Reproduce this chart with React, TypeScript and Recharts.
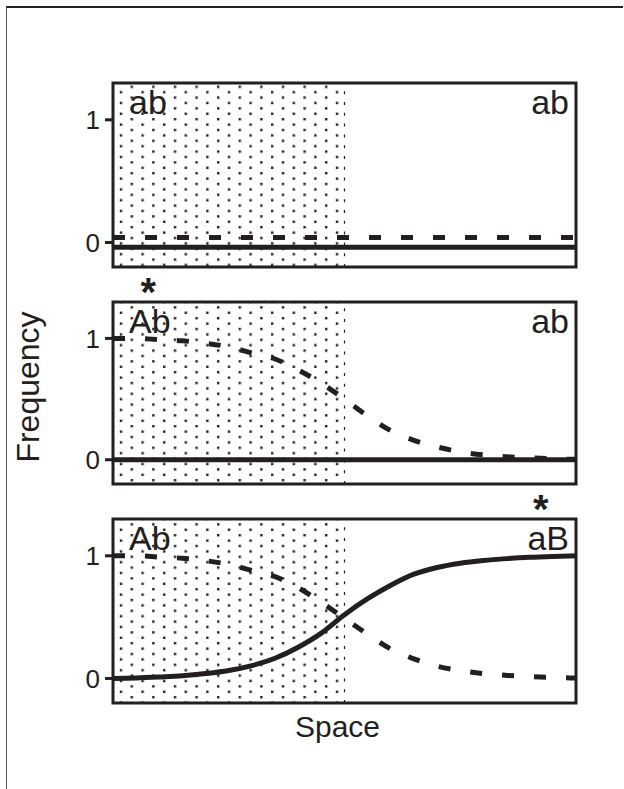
import React from "react";
import {
  LineChart,
  Line,
  XAxis,
  YAxis,
  ReferenceArea,
  ReferenceLine,
  ReferenceDot,
  Label,
} from "recharts";

// position along the transect (0 = left edge, 1 = right edge)
const space = [
  0, 0.05, 0.1, 0.15, 0.2, 0.25, 0.3, 0.35, 0.4, 0.45, 0.5, 0.55, 0.6, 0.65,
  0.7, 0.75, 0.8, 0.85, 0.9, 0.95, 1,
];

// top panel: both alleles absent (drawn slightly apart at zero)
const topDashed = [
  0.04, 0.04, 0.04, 0.04, 0.04, 0.04, 0.04, 0.04, 0.04, 0.04, 0.04, 0.04, 0.04,
  0.04, 0.04, 0.04, 0.04, 0.04, 0.04, 0.04, 0.04,
];
const topSolid = [
  -0.04, -0.04, -0.04, -0.04, -0.04, -0.04, -0.04, -0.04, -0.04, -0.04, -0.04,
  -0.04, -0.04, -0.04, -0.04, -0.04, -0.04, -0.04, -0.04, -0.04, -0.04,
];

// middle panel: A spreads, B absent
const midDashed = [
  1.0, 1.0, 0.99, 0.98, 0.96, 0.93, 0.88, 0.83, 0.74, 0.63, 0.5, 0.36, 0.24,
  0.16, 0.105, 0.065, 0.04, 0.025, 0.015, 0.008, 0.003,
];
const midSolid = [
  0, 0, 0, 0, 0, 0, 0, 0, 0, 0, 0, 0, 0, 0, 0, 0, 0, 0, 0, 0, 0,
];

// bottom panel: A and B form opposing clines
const lowDashed = [
  1.0, 1.0, 0.99, 0.98, 0.96, 0.93, 0.88, 0.83, 0.74, 0.62, 0.49, 0.36, 0.24,
  0.16, 0.1, 0.065, 0.04, 0.025, 0.015, 0.008, 0.003,
];
const lowSolid = [
  0, 0.004, 0.012, 0.022, 0.04, 0.065, 0.105, 0.165, 0.255, 0.37, 0.52, 0.65,
  0.76, 0.85, 0.905, 0.94, 0.962, 0.977, 0.988, 0.995, 1.0,
];

const yTicks = [0, 1];

const INK = "#231f20";
const FONT = "'Liberation Sans', Arial, Helvetica, sans-serif";

type Row = { x: number; dashed: number; solid: number };

function rows(dashed: number[], solid: number[]): Row[] {
  return space.map((x, i) => ({ x, dashed: dashed[i], solid: solid[i] }));
}

interface PanelProps {
  id: string;
  data: Row[];
  top: number;
  height: number;
  marginTop: number;
  marginBottom: number;
  leftLabel: string;
  rightLabel: string;
  star?: number;
  yLabel?: string;
  xLabel?: string;
}

function Panel({
  id,
  data,
  top,
  height,
  marginTop,
  marginBottom,
  leftLabel,
  rightLabel,
  star,
  yLabel,
  xLabel,
}: PanelProps) {
  return (
    <div style={{ position: "absolute", left: 0, top }}>
      <LineChart
        width={624}
        height={height}
        data={data}
        margin={{ top: marginTop, bottom: marginBottom, left: 13, right: 48 }}
      >
        <defs>
          <pattern
            id={id}
            patternUnits="userSpaceOnUse"
            width={21.6}
            height={10.8}
          >
            <rect x={1} y={1} width={2.4} height={2.4} fill={INK} />
            <rect x={11.8} y={6.4} width={2.4} height={2.4} fill={INK} />
          </pattern>
        </defs>
        {xLabel ? (
          <XAxis
            type="number"
            dataKey="x"
            domain={[0, 1]}
            height={45}
            tick={false}
            axisLine={false}
            tickLine={false}
          >
            <Label
              value={xLabel}
              position="insideBottom"
              offset={11}
              dx={-7}
              fontSize={30}
              fill={INK}
              fontFamily={FONT}
            />
          </XAxis>
        ) : (
          <XAxis type="number" dataKey="x" domain={[0, 1]} hide />
        )}
        <YAxis
          type="number"
          domain={[-0.2, 1.3]}
          ticks={yTicks}
          allowDataOverflow
          width={100}
          axisLine={false}
          tickSize={8}
          tickMargin={5}
          tickLine={{ stroke: INK, strokeWidth: 3 }}
          tick={{ fill: INK, fontSize: 26, fontFamily: FONT }}
        >
          {yLabel && (
            <Label
              value={yLabel}
              angle={-90}
              position="insideLeft"
              offset={15}
              dy={-6}
              fontSize={32}
              fill={INK}
              fontFamily={FONT}
              style={{ textAnchor: "middle" }}
            />
          )}
        </YAxis>
        <ReferenceArea
          x1={0}
          x2={0.5}
          y1={-0.2}
          y2={1.3}
          fill={`url(#${id})`}
          fillOpacity={1}
          stroke="none"
        />
        <ReferenceLine
          x={0.5}
          stroke={INK}
          strokeWidth={1.2}
          strokeDasharray="3 7.8"
        />
        <Line
          type="monotone"
          dataKey="dashed"
          stroke={INK}
          strokeWidth={5}
          strokeDasharray="12 20"
          dot={false}
          activeDot={false}
          isAnimationActive={false}
        />
        <Line
          type="monotone"
          dataKey="solid"
          stroke={INK}
          strokeWidth={5}
          dot={false}
          activeDot={false}
          isAnimationActive={false}
        />
        <ReferenceArea
          x1={0}
          x2={1}
          y1={-0.2}
          y2={1.3}
          fill="none"
          stroke={INK}
          strokeWidth={3}
        >
          <Label
            value={leftLabel}
            position="insideTopLeft"
            offset={7}
            dx={9}
            fontSize={34}
            fill={INK}
            fontFamily={FONT}
          />
          <Label
            value={rightLabel}
            position="insideTopRight"
            offset={7}
            fontSize={34}
            fill={INK}
            fontFamily={FONT}
          />
        </ReferenceArea>
        {star !== undefined && (
          <ReferenceDot x={star} y={1.3} r={0} stroke="none" fill="none">
            <Label
              value="*"
              position="top"
              offset={-4}
              fontSize={40}
              fontWeight="bold"
              fill={INK}
              fontFamily={FONT}
            />
          </ReferenceDot>
        )}
      </LineChart>
    </div>
  );
}

export default function App() {
  return (
    <div
      style={{
        position: "absolute",
        left: 0,
        top: 0,
        width: 624,
        height: 789,
        background: "#fff",
        fontFamily: FONT,
        overflow: "hidden",
      }}
    >
      <div
        style={{
          position: "absolute",
          left: 6,
          top: 6,
          width: 616,
          height: 790,
          borderTop: `2px solid ${INK}`,
          borderLeft: "1.5px solid #555",
        }}
      />
      <Panel
        id="dots1"
        data={rows(topDashed, topSolid)}
        top={63}
        height={224}
        marginTop={20}
        marginBottom={20}
        leftLabel="ab"
        rightLabel="ab"
      />
      <Panel
        id="dots2"
        data={rows(midDashed, midSolid)}
        top={262}
        height={232}
        marginTop={40}
        marginBottom={10}
        leftLabel="Ab"
        rightLabel="ab"
        star={0.076}
        yLabel="Frequency"
      />
      <Panel
        id="dots3"
        data={rows(lowDashed, lowSolid)}
        top={479}
        height={274}
        marginTop={40}
        marginBottom={5}
        leftLabel="Ab"
        rightLabel="aB"
        star={0.924}
        xLabel="Space"
      />
    </div>
  );
}
